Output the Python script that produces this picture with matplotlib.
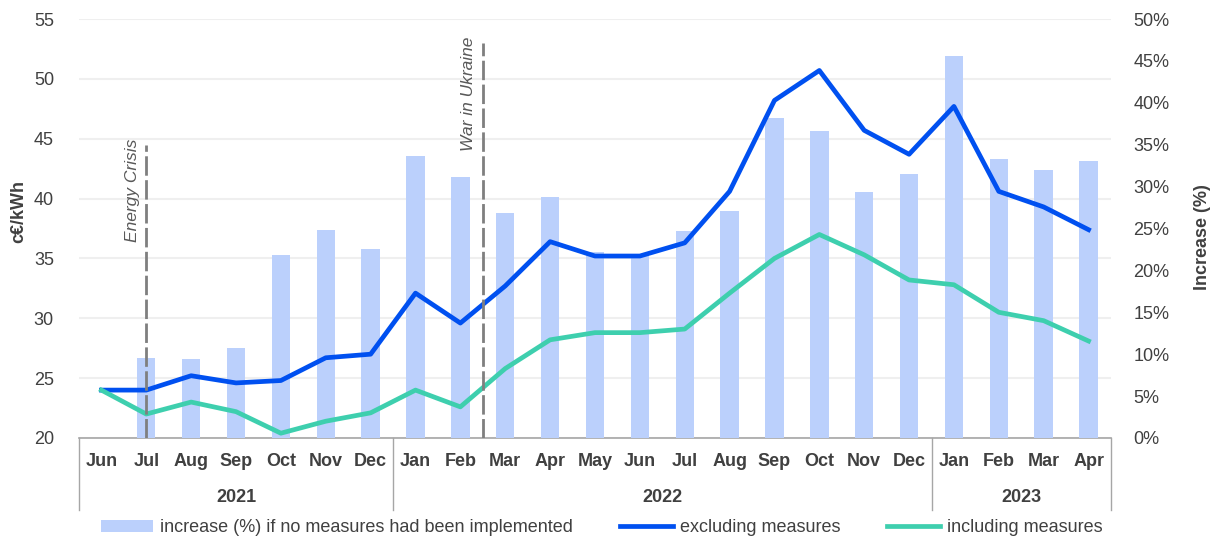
import numpy as np
import matplotlib
matplotlib.use("Agg")
import matplotlib.pyplot as plt
import matplotlib.transforms as mtransforms

plt.rcParams['font.family'] = ['Liberation Sans', 'DejaVu Sans']

# data
months = ['Jun', 'Jul', 'Aug', 'Sep', 'Oct', 'Nov', 'Dec',
          'Jan', 'Feb', 'Mar', 'Apr', 'May', 'Jun', 'Jul', 'Aug', 'Sep', 'Oct', 'Nov', 'Dec',
          'Jan', 'Feb', 'Mar', 'Apr']
years = ['2021', '2022', '2023']
year_counts = [7, 12, 4]

increase_pct = [0, 9.5, 9.4, 10.7, 21.8, 24.8, 22.6,
                33.7, 31.1, 26.9, 28.8, 22.2, 21.8, 24.7, 27.1, 38.2, 36.6, 29.3, 31.5,
                45.6, 33.3, 32.0, 33.0]
excl_measures = [24.0, 24.0, 25.2, 24.6, 24.8, 26.7, 27.0,
                 32.1, 29.6, 32.7, 36.4, 35.2, 35.2, 36.3, 40.6, 48.2, 50.7, 45.7, 43.7,
                 47.7, 40.6, 39.3, 37.4]
incl_measures = [24.0, 22.0, 23.0, 22.2, 20.4, 21.4, 22.1,
                 24.0, 22.6, 25.8, 28.2, 28.8, 28.8, 29.1, 32.1, 35.0, 37.0, 35.3, 33.2,
                 32.8, 30.5, 29.8, 28.1]

events = ['Energy Crisis', 'War in Ukraine']
event_pos = [1, 8.5]
event_top = [44.5, 53.0]

bar_color = '#BBD0FC'
blue = '#0050F0'
teal = '#3ECFAE'
txt = '#404040'
grey = '#A6A6A6'

x = np.arange(len(months))

fig = plt.figure(figsize=(12.13, 5.43), dpi=100)
ax = fig.add_axes([0.0651, 0.1934, 0.8508, 0.7716])
ax2 = ax.twinx()
ax3 = ax.twinx()

# left axis: grid + c€/kWh ticks
ax.set_ylim(20, 55)
ax.set_yticks(np.arange(20, 56, 5))
ax.grid(axis='y', color='#EFEFEF', linewidth=1.5)
ax.set_axisbelow(True)
ax.set_xlim(-0.5, 22.5)
ax.set_xticks(x)
ax.set_xticklabels(months, fontsize=13, fontweight='bold', color=txt)
ax.tick_params(axis='x', length=0, pad=11)
ax.tick_params(axis='y', length=0, pad=18, labelsize=13, labelcolor=txt)
ax.set_ylabel('c€/kWh', fontsize=13, fontweight='bold', color=txt)
ax.yaxis.set_label_coords(-0.05, 0.54)
for s in ['top', 'right', 'left']:
    ax.spines[s].set_visible(False)
ax.spines['bottom'].set_color(grey)
ax.spines['bottom'].set_linewidth(1.2)

# right axis: bars
ax2.bar(x, increase_pct, width=0.41, color=bar_color, zorder=1)
ax2.set_ylim(0, 50)
ax2.set_yticks(np.arange(0, 51, 5))
ax2.set_yticklabels([f'{v}%' for v in range(0, 51, 5)])
ax2.tick_params(axis='y', length=0, pad=16, labelsize=13, labelcolor=txt)
ax2.set_ylabel('Increase (%)', fontsize=13, fontweight='bold', color=txt)
ax2.yaxis.set_label_coords(1.08, 0.48)
for s in ax2.spines.values():
    s.set_visible(False)

# top layer: lines on the c€/kWh scale
ax3.set_ylim(ax.get_ylim())
ax3.set_yticks([])
for s in ax3.spines.values():
    s.set_visible(False)
ax3.plot(x, excl_measures, color=blue, linewidth=3.4, label='excluding measures')
ax3.plot(x, incl_measures, color=teal, linewidth=3.4, label='including measures')

for name, xp, top in zip(events, event_pos, event_top):
    ax3.vlines(xp, 20, top, colors='#7F7F7F', linewidth=2, linestyles=(0, (7, 1.6)))
    ax3.text(xp - 0.15, top + 0.5, name, rotation=90, ha='right', va='top',
             fontsize=12.5, style='italic', color='#595959')

# category box with years
trans = mtransforms.blended_transform_factory(ax.transData, ax.transAxes)
edges = np.concatenate([[0], np.cumsum(year_counts)]) - 0.5
for e in edges:
    ax.plot([e, e], [0, -0.172], color=grey, linewidth=1, transform=trans, clip_on=False)
for yr, a, b in zip(years, edges[:-1], edges[1:]):
    ax.text((a + b) / 2, -0.143, yr, transform=trans, ha='center', va='center',
            fontsize=13, fontweight='bold', color=txt)

handles = [ax2.patches[1]] + ax3.get_lines()[:2]
labels = ['increase (%) if no measures had been implemented', 'excluding measures', 'including measures']
fig.legend(handles, labels, loc='center', bbox_to_anchor=(0.496, 0.028), ncol=3,
           frameon=False, fontsize=13, handlelength=2.9, columnspacing=2.6,
           handletextpad=0.4, labelcolor=txt)

fig.savefig('out.png', dpi=100)
